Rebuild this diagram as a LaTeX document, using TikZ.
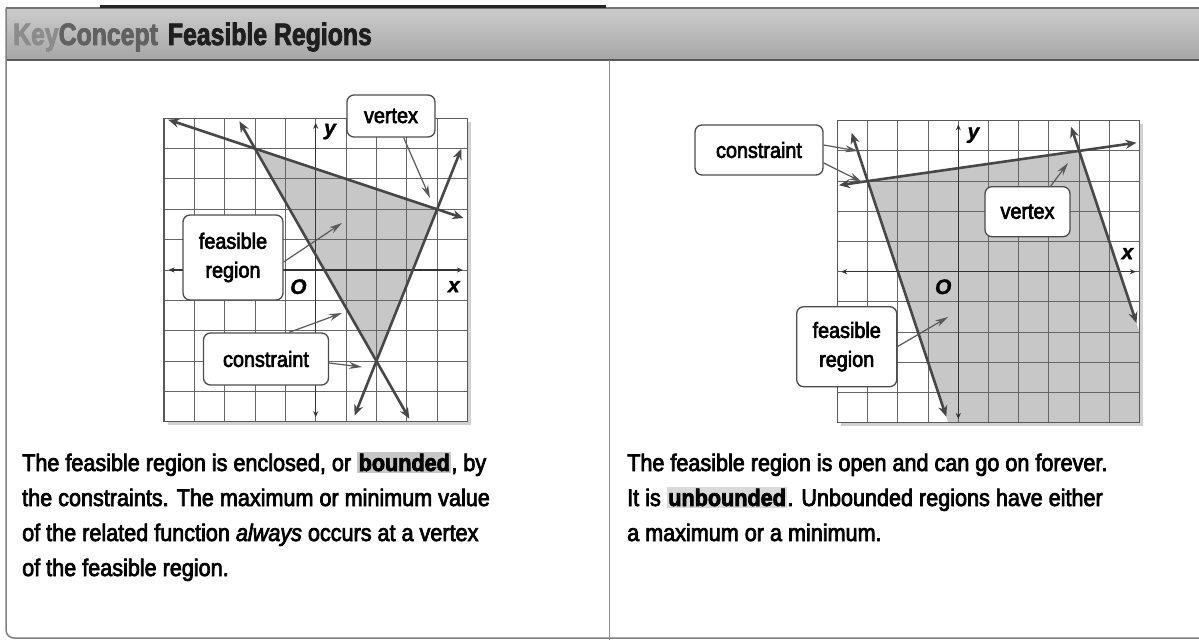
\documentclass[tikz,border=0pt]{standalone}
\usepackage{fontspec}
\setmainfont{Liberation Sans}
\newfontfamily\bodyf{Liberation Sans}[FakeStretch=0.9,FakeBold=3]
\newfontfamily\headf{Liberation Sans}[FakeStretch=0.8,FakeBold=2.5]
\newfontfamily\labf{Liberation Sans}[FakeBold=1.5]
\usetikzlibrary{arrows.meta}
\setlength{\fboxsep}{1.5pt}
\tikzset{
  gridln/.style={black!60, line width=1pt},
  gridbd/.style={black!65, line width=1.3pt},
  region/.style={fill=black!22},
  shadowbox/.style={fill=black!18},
  cline/.style={black!72, line width=2.6pt, {Stealth[length=11pt,width=9pt]}-{Stealth[length=11pt,width=9pt]}},
  axisln/.style={black!80, line width=1.1pt, {Stealth[length=6pt,width=5pt]}-{Stealth[length=6pt,width=5pt]}},
  callout/.style={draw=black!70, line width=1.3pt, fill=white, rounded corners=7pt, inner sep=0pt,
    font=\bodyf\fontsize{22}{29}\selectfont, align=center},
  pointer/.style={black!65, line width=1.2pt, -{Stealth[length=13pt,width=7pt]}},
  axlab/.style={font=\labf\bfseries\itshape\fontsize{21}{21}\selectfont, inner sep=0pt},
  body/.style={font=\bodyf\fontsize{24}{35}\selectfont, anchor=base west, inner sep=0pt},
}
\begin{document}
\begin{tikzpicture}[x=1pt,y=-1pt]
\useasboundingbox (0,0) rectangle (1199,642);
\fill[white] (0,0) rectangle (1199,642);

% header band
\shade[top color=black!20, middle color=black!3, bottom color=black!35] (6,8) rectangle (1199,60);
\draw[black!55, line width=1.5pt] (6,8) -- (1199,8);
\draw[black!85, line width=3pt] (100,7) -- (606,7);
\draw[black!65, line width=1.8pt] (6,60) -- (1199,60);
\node[anchor=base west, inner sep=0pt, font=\headf\bfseries\fontsize{31}{31}\selectfont] (ttl) at (13,45)
  {\textcolor{black!45}{Key}\textcolor{black!62}{Concept}\hspace{10pt}\textcolor{black!88}{Feasible Regions}};

% frame and divider
\draw[black!50, line width=1.5pt, rounded corners=8pt] (6,8) -- (6,638) -- (1199,638);
\draw[black!45, line width=1pt] (609,60) -- (609,640);

% ---------------- left graph ----------------
\begin{scope}[shift={(315.7,270)}, x=30.35pt, y=30.35pt]
  \fill[shadowbox] (-4.88,-5.12) rectangle (5.12,4.88);
  \fill[white] (-5,-5) rectangle (5,5);
  \fill[region] (-2,4) -- (4,2) -- (2,-3) -- cycle;
  \draw[gridln, step=30.35pt] (-5,-5) grid (5,5);
  \draw[gridbd] (-5,-5) rectangle (5,5);
  \draw[axisln] (-4.85,0) -- (4.85,0);
  \draw[axisln] (0,-4.85) -- (0,4.85);
  \draw[cline] (-4.86,4.953) -- (4.87,1.71);
  \draw[cline] (-2.514,4.9) -- (3.086,-4.9);
  \draw[cline] (1.28,-4.8) -- (4.8,4.0);
  \node[axlab] (ly) at (0.47,4.56) {y};
  \node[axlab] (lx) at (4.55,-0.55) {x};
  \node[axlab] (lo) at (-0.57,-0.55) {O};
\end{scope}

\node[callout, minimum width=88pt, minimum height=42pt] (lvx) at (391,116) {vertex};
\coordinate (lvxtip) at (430,198);
\draw[pointer] ([xshift=-32pt]lvx.south east) -- (lvxtip);

\node[callout, minimum width=100pt, minimum height=85pt] (lfr) at (233,257.5) {feasible\\region};
\coordinate (lfrtip) at (342,223);
\draw[pointer] ([yshift=-4.5pt]lfr.east) -- (lfrtip);

\node[callout, minimum width=125pt, minimum height=52pt] (lcn) at (266,359) {constraint};
\coordinate (lcntipa) at (342,313);
\coordinate (lcntipb) at (362,367);
\draw[pointer] ([xshift=-40pt]lcn.north east) -- (lcntipa);
\draw[pointer] ([yshift=-4pt]lcn.east) -- (lcntipb);

% ---------------- right graph ----------------
\begin{scope}[shift={(958.3,271.7)}, x=30.2pt, y=30.2pt]
  \fill[shadowbox] (-3.88,-5.12) rectangle (6.12,4.88);
  \fill[white] (-4,-5) rectangle (6,5);
  \fill[region] (-3,3) -- (4,4) -- (6,-2) -- (6,-5) -- (-0.333,-5) -- cycle;
  \draw[gridln, step=30.2pt] (-4,-5) grid (6,5);
  \draw[gridbd] (-4,-5) rectangle (6,5);
  \draw[axisln] (-3.88,0) -- (5.88,0);
  \draw[axisln] (0,-4.88) -- (0,4.88);
  \draw[cline] (-3.95,2.864) -- (5.9,4.271);
  \draw[cline] (-3.533,4.6) -- (-0.4,-4.8);
  \draw[cline] (3.733,4.8) -- (5.9,-1.7);
  \node[axlab] (ry) at (0.5,4.52) {y};
  \node[axlab] (rx) at (5.6,0.6) {x};
  \node[axlab] (ro) at (-0.5,-0.5) {O};
\end{scope}

\node[callout, minimum width=128pt, minimum height=50pt] (rcn) at (759,150) {constraint};
\coordinate (rcntipa) at (858,151);
\coordinate (rcntipb) at (862,182);
\draw[pointer] ([yshift=5pt]rcn.east) -- (rcntipa);
\draw[pointer] ([yshift=-13pt]rcn.east) -- (rcntipb);

\node[callout, minimum width=85pt, minimum height=50pt] (rvx) at (1027.5,211.7) {vertex};
\coordinate (rvxtip) at (1068,163);
\draw[pointer] ([xshift=-20pt]rvx.north east) -- (rvxtip);

\node[callout, minimum width=100pt, minimum height=80pt] (rfr) at (846.7,346.7) {feasible\\region};
\coordinate (rfrtip) at (948,317);
\draw[pointer] (rfr.east) -- (rfrtip);

% ---------------- texts ----------------
\node[body] (p1a) at (22,471) {The feasible region is enclosed, or \colorbox{black!22}{\bfseries bounded}, by};
\node[body] (p1b) at (22,506) {the constraints. The maximum or minimum value};
\node[body] (p1c) at (22,541) {of the related function \textit{always} occurs at a vertex};
\node[body] (p1d) at (22,576) {of the feasible region.};

\node[body] (p2a) at (627,471) {The feasible region is open and can go on forever.};
\node[body] (p2b) at (627,506) {It is \colorbox{black!15}{\bfseries unbounded}. Unbounded regions have either};
\node[body] (p2c) at (627,541) {a maximum or a minimum.};
\end{tikzpicture}
\end{document}
